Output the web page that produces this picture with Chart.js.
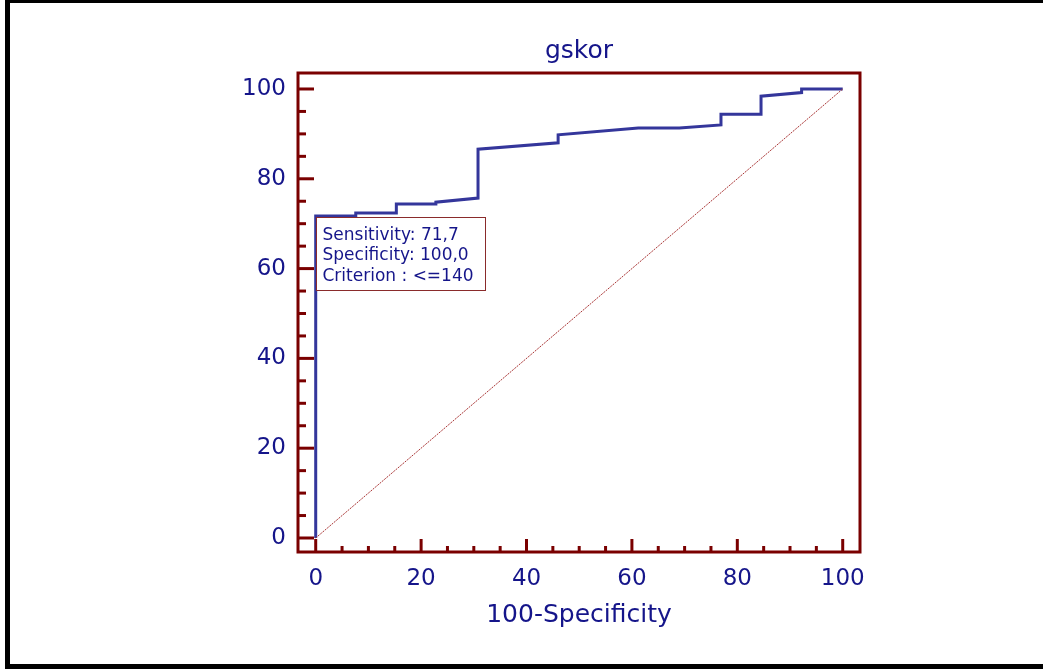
<!DOCTYPE html>
<html>
<head>
<meta charset="utf-8">
<script src="https://cdn.jsdelivr.net/npm/chart.js@4.4.1/dist/chart.umd.min.js"></script>
<style>
  html, body { margin: 0; padding: 0; background: #fff; }
</style>
</head>
<body>
<canvas id="roc" width="1043" height="669"></canvas>
<script>
// --- ROC curve, values ---
const fprValues  = [0, 0, 7.6, 7.6, 15.3, 15.3, 22.8, 22.8, 30.8, 30.8, 46.0, 46.0, 61.2, 69.0, 76.9, 76.9, 84.5, 84.5, 92.2, 92.2, 100];
const sensValues = [0, 71.7, 71.7, 72.4, 72.4, 74.4, 74.4, 74.8, 75.7, 86.6, 88.0, 89.8, 91.3, 91.3, 92.0, 94.4, 94.4, 98.4, 99.2, 100, 100];

// reference diagonal
const diagX = [0, 100];
const diagY = [0, 100];

// axis ticks (labels only on the majors)
const tickValues = [0, 5, 10, 15, 20, 25, 30, 35, 40, 45, 50, 55, 60, 65, 70, 75, 80, 85, 90, 95, 100];
const majorStep = 20;

const chartTitle = "gskor";
const xTitle = "100-Specificity";
const infoLines = ["Sensitivity: 71,7", "Specificity: 100,0", "Criterion : <=140"];
const infoPoint = { x: 0, y: 71.7 };

const NAVY = "#15158a";
const DARK_RED = "#7a0000";
const FONT = "DejaVu Sans";

const toPoints = (xs, ys) => xs.map((v, i) => ({ x: v, y: ys[i] }));

// box, inner ticks, outer frame and the criterion label
const framePlugin = {
  id: "frame",
  afterDraw(chart) {
    const { ctx, chartArea: a, scales } = chart;
    const x = scales.x, y = scales.y;
    ctx.save();

    // outer black frame (right edge is cut off in the original)
    ctx.fillStyle = "#000";
    ctx.fillRect(5, 0, 1038, 3);
    ctx.fillRect(5, 0, 5, 669);
    ctx.fillRect(5, 664, 1038, 5);

    // plot box
    ctx.strokeStyle = DARK_RED;
    ctx.lineWidth = 3;
    ctx.strokeRect(a.left, a.top, a.right - a.left, a.bottom - a.top);

    // ticks pointing inwards
    x.ticks.forEach((t) => {
      const px = x.getPixelForValue(t.value);
      const len = t.value % majorStep === 0 ? 13 : 6;
      ctx.beginPath();
      ctx.moveTo(px, a.bottom);
      ctx.lineTo(px, a.bottom - len);
      ctx.stroke();
    });
    y.ticks.forEach((t) => {
      const py = y.getPixelForValue(t.value);
      const len = t.value % majorStep === 0 ? 16 : 8;
      ctx.beginPath();
      ctx.moveTo(a.left, py);
      ctx.lineTo(a.left + len, py);
      ctx.stroke();
    });

    // criterion box
    const bx = Math.round(x.getPixelForValue(infoPoint.x)) + 0.5;
    const by = Math.round(y.getPixelForValue(infoPoint.y)) + 1.5;
    const bw = 169, bh = 73;
    ctx.fillStyle = "#fff";
    ctx.fillRect(bx, by, bw, bh);
    ctx.strokeStyle = "#8a2b2b";
    ctx.lineWidth = 1;
    ctx.strokeRect(bx, by, bw, bh);

    ctx.fillStyle = NAVY;
    ctx.font = "17px " + FONT;
    ctx.textAlign = "left";
    ctx.textBaseline = "middle";
    infoLines.forEach((line, i) => {
      ctx.fillText(line, bx + 6, by + 18 + i * 20.3);
    });

    ctx.restore();
  },
};

new Chart(document.getElementById("roc"), {
  type: "scatter",
  data: {
    datasets: [
      {
        label: "diagonal",
        data: toPoints(diagX, diagY),
        showLine: true,
        borderColor: "#a83434",
        borderWidth: 1,
        borderDash: [2, 1],
        pointRadius: 0,
      },
      {
        label: chartTitle,
        data: toPoints(fprValues, sensValues),
        showLine: true,
        borderColor: "#34369b",
        borderWidth: 3,
        pointRadius: 0,
        tension: 0,
      },
    ],
  },
  options: {
    responsive: false,
    animation: false,
    devicePixelRatio: 1,
    layout: { padding: { left: 10, right: 183, top: 0, bottom: 5 } },
    plugins: {
      legend: { display: false },
      tooltip: { enabled: false },
      title: {
        display: true,
        text: chartTitle,
        fullSize: false,
        color: NAVY,
        font: { family: FONT, size: 25, weight: "normal" },
        padding: { top: 36, bottom: 7 },
      },
    },
    scales: {
      x: {
        type: "linear",
        min: -3.36,
        max: 103.28,
        grid: { display: false },
        border: { display: false },
        afterBuildTicks: (s) => { s.ticks = tickValues.map((v) => ({ value: v })); },
        afterFit: (s) => { s.height = 112; },
        ticks: {
          autoSkip: false,
          maxRotation: 0,
          padding: 5,
          color: NAVY,
          font: { family: FONT, size: 23 },
          callback: (v) => (v % majorStep === 0 ? v : ""),
        },
        title: {
          display: true,
          text: xTitle,
          color: NAVY,
          font: { family: FONT, size: 25 },
          padding: { top: 0, bottom: 34 },
        },
      },
      y: {
        type: "linear",
        min: -3.12,
        max: 103.56,
        grid: { display: false },
        border: { display: false },
        afterBuildTicks: (s) => { s.ticks = tickValues.map((v) => ({ value: v })); },
        afterFit: (s) => { s.width = 288; },
        ticks: {
          autoSkip: false,
          padding: 4,
          color: NAVY,
          font: { family: FONT, size: 23 },
          callback: (v) => (v % majorStep === 0 ? v : ""),
        },
      },
    },
  },
  plugins: [framePlugin],
});
</script>
</body>
</html>
